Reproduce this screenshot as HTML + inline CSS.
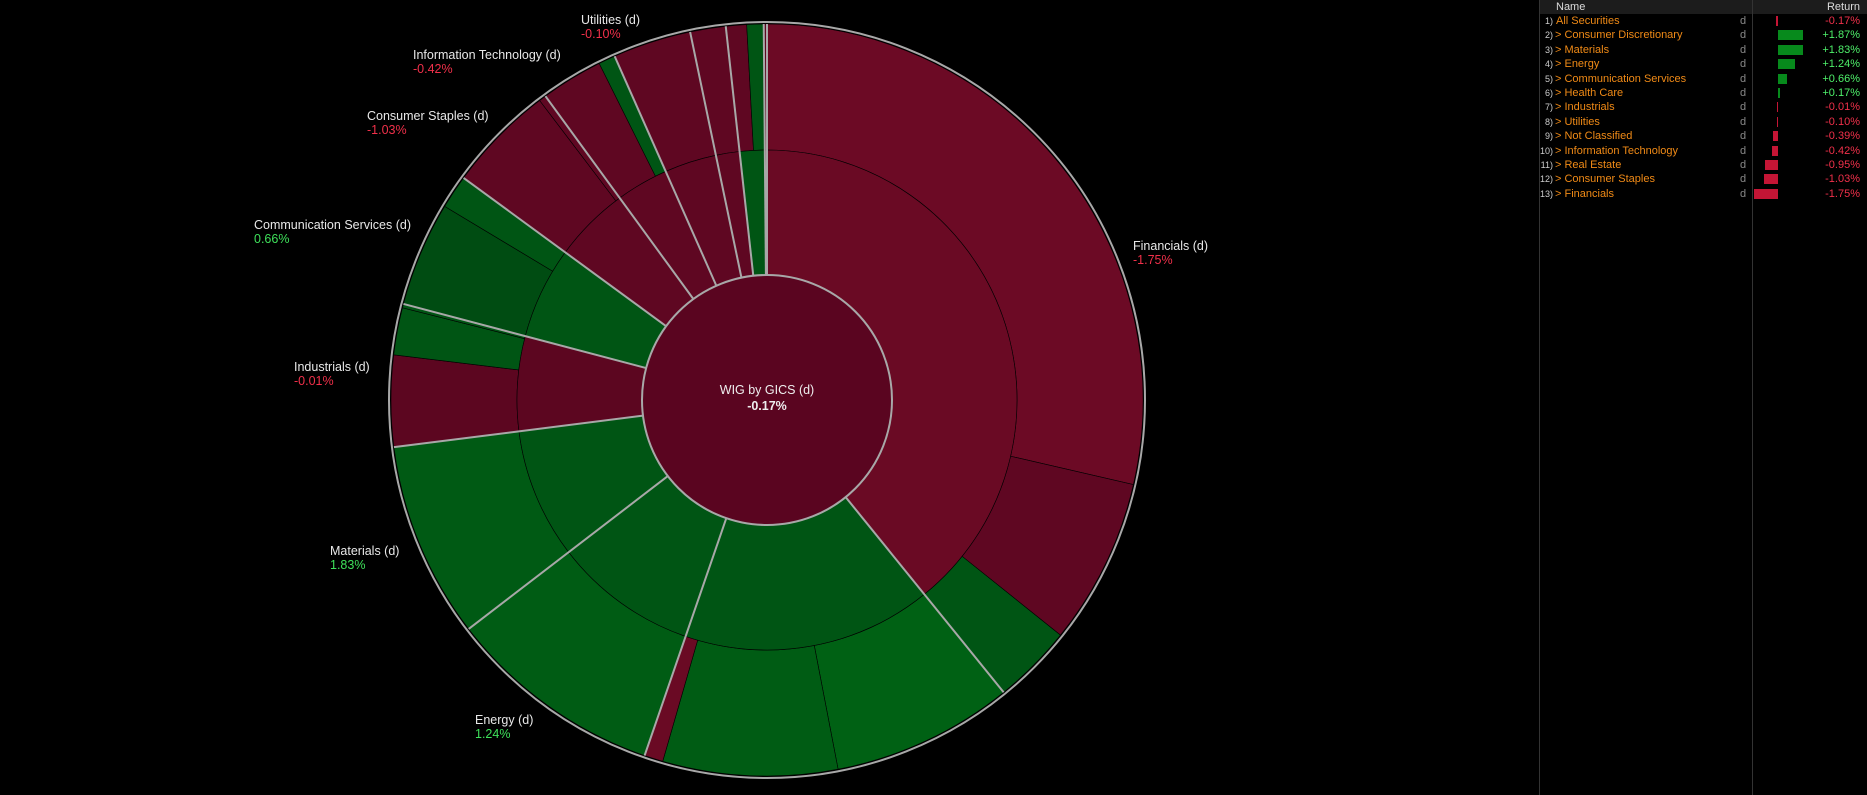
<!DOCTYPE html>
<html><head><meta charset="utf-8"><style>
html,body{margin:0;padding:0;background:#000;width:1867px;height:795px;overflow:hidden;font-family:"Liberation Sans",sans-serif}
svg{position:absolute;left:0;top:0}
#tbl{position:absolute;left:1539px;top:0;width:328px;height:795px;border-left:1px solid #333;font-size:11px}
.hdr{height:14px;background:#1c1c1c;color:#ddd;position:relative}
.row{height:14.4px;position:relative;color:#f08a16}
.row span{position:absolute;top:1px;white-space:nowrap}
</style></head><body>
<svg id="chart" width="1540" height="795"></svg>
<div id="tbl">
 <div class="hdr"><span style="position:absolute;left:16px;top:1px">Name</span><span style="position:absolute;right:8px;top:1px">Return</span></div>
 <div id="sep" style="position:absolute;left:212px;top:0;width:1px;height:795px;background:#333"></div>
 <div id="rows"></div>
</div>
<script>
const NS="http://www.w3.org/2000/svg";
const cx=767,cy=400,r0=125,r1=250,r2=376;
// sectors: [start deg, end deg] clockwise from top
const sectorNames=["Financials","Consumer Discretionary","Energy","Materials","Industrials","Communication Services","Consumer Staples","Information Technology","Utilities","Real Estate","Health Care","Not Classified"];
const sectorStart=[0,141,199,232.5,262.8,284.8,306.2,323.9,336.1,348.2,353.7,359.5];
const sectorEnd=[141,199,232.5,262.8,284.8,306.2,323.9,336.1,348.2,353.7,359.5,360];
const sectorColor=["#6a0a24","#005514","#005514","#005514","#5c0620","#005514","#5f0722","#5f0722","#5f0722","#5f0722","#005514","#6a0a24"];
// outer ring segments
const subStart=[0,103,128.7,141,169.1,196.1,199,232.5,262.8,276.9,284.2,284.8,301,306.2,322.8,323.9,333.5,336.1,348.2,353.7,356.9,359.5];
const subEnd=[103,128.7,141,169.1,196.1,199,232.5,262.8,276.9,284.2,284.8,301,306.2,322.8,323.9,333.5,336.1,348.2,353.7,356.9,359.5,360];
const subColor=["#6c0a25","#5f0722","#005514","#006114","#005c14","#6a0a24","#005c14","#005a14","#5c0620","#005514","#005514","#004c12","#005514","#5f0722","#5f0722","#5f0722","#005514","#5f0722","#5f0722","#5f0722","#005514","#5f0722"];
const labelText=["Financials (d)","Utilities (d)","Information Technology (d)","Consumer Staples (d)","Communication Services (d)","Industrials (d)","Materials (d)","Energy (d)"];
const labelValue=["-1.75%","-0.10%","-0.42%","-1.03%","0.66%","-0.01%","1.83%","1.24%"];
const labelX=[1133,581,413,367,254,294,330,475];
const labelY=[250,24,59,120,229,371,555,724];
const svg=document.getElementById('chart');
function pt(a,r){const t=a*Math.PI/180;return [cx+r*Math.sin(t),cy-r*Math.cos(t)];}
function arc(a0,a1,ri,ro){const p=(a,r)=>pt(a,r).map(v=>v.toFixed(2)).join(' ');const lg=(a1-a0)>180?1:0;
 return `M${p(a0,ri)} L${p(a0,ro)} A${ro} ${ro} 0 ${lg} 1 ${p(a1,ro)} L${p(a1,ri)} A${ri} ${ri} 0 ${lg} 0 ${p(a0,ri)}Z`;}
function mk(tag,attrs){const e=document.createElementNS(NS,tag);for(const k in attrs)e.setAttribute(k,attrs[k]);svg.appendChild(e);return e;}
for(let i=0;i<subStart.length;i++){
 const e=mk('path',{d:arc(subStart[i],subEnd[i],r1,r2),fill:subColor[i],stroke:'#000','stroke-width':0.6});
 
 
}
for(let i=0;i<sectorStart.length;i++){
 const e=mk('path',{d:arc(sectorStart[i],sectorEnd[i],r0,r1),fill:sectorColor[i],stroke:'#000','stroke-width':0.6});
 
 
}
for(let i=0;i<sectorStart.length;i++){
 const a=pt(sectorStart[i],r0),b=pt(sectorStart[i],r2);
 const l=mk('line',{x1:a[0],y1:a[1],x2:b[0],y2:b[1],stroke:'#a8a8a8','stroke-width':2});
 
 
}
const c=mk('circle',{cx:cx,cy:cy,r:r0,fill:'#5a0520',stroke:'#a8a8a8','stroke-width':2});


const ring=mk('circle',{cx:cx,cy:cy,r:378,fill:'none',stroke:'#a8a8a8','stroke-width':2});


const t1=mk('text',{x:cx,y:394,fill:'#eee','font-size':12.5,'text-anchor':'middle'});t1.textContent='WIG by GICS (d)';


const t2=mk('text',{x:cx,y:410,fill:'#eee','font-size':12.5,'text-anchor':'middle','font-weight':'bold'});t2.textContent='-0.17%';


for(let i=0;i<labelText.length;i++){
 const a=mk('text',{x:labelX[i],y:labelY[i],fill:'#e8e8e8','font-size':12.5});a.textContent=labelText[i];
 
 
 const v=mk('text',{x:labelX[i],y:labelY[i]+14,fill:labelValue[i][0]==='-'?'#f0304a':'#3ee05a','font-size':12.5});v.textContent=labelValue[i];
 
 
}
// table
const rowNames=["All Securities","> Consumer Discretionary","> Materials","> Energy","> Communication Services","> Health Care","> Industrials","> Utilities","> Not Classified","> Information Technology","> Real Estate","> Consumer Staples","> Financials"];
const rowReturns=[-0.17,1.87,1.83,1.24,0.66,0.17,-0.01,-0.10,-0.39,-0.42,-0.95,-1.03,-1.75];
const rows=document.getElementById('rows');
rowNames.forEach((n,i)=>{
 const r=document.createElement('div');r.className='row';
 
 
 const v=rowReturns[i];const w=Math.max(1.5,Math.abs(v)*13.6);
 const left=v>=0?238:238-w;
 r.innerHTML=`<span style="left:0;width:13px;text-align:right;color:#ccc;font-size:9px;top:2px">${i+1})</span><span style="left:${i?15:16}px">${n}</span><span style="left:200px;color:#888">d</span><span style="left:${left}px;top:2px;width:${w}px;height:10px;background:${v>=0?'#078a1c':'#c41535'}"></span><span style="right:8px;color:${v>=0?'#4ef06a':'#f0304a'}">${v>=0?'+':''}${v.toFixed(2)}%</span>`;
 rows.appendChild(r);
});
</script>
</body></html>
